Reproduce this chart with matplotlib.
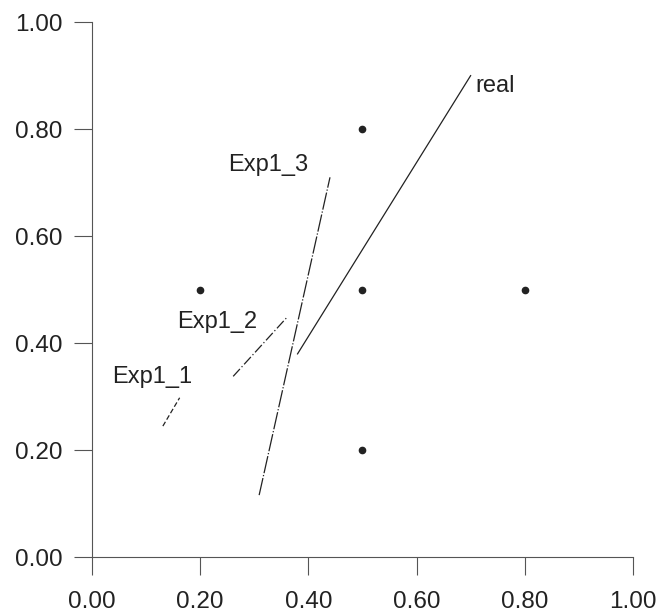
import matplotlib

matplotlib.use("Agg")
import matplotlib.pyplot as plt  # noqa: E402

plt.rcParams["font.family"] = ["Liberation Sans", "DejaVu Sans"]

# design points
pts_x = [0.2, 0.5, 0.5, 0.8, 0.5]
pts_y = [0.5, 0.8, 0.5, 0.5, 0.2]

# fitted segments: (x0, x1), (y0, y1)
real_x = [0.38, 0.70]
real_y = [0.38, 0.90]
exp3_x = [0.309, 0.44]
exp3_y = [0.116, 0.71]
exp2_x = [0.261, 0.362]
exp2_y = [0.338, 0.450]
exp1_x = [0.131, 0.162]
exp1_y = [0.245, 0.298]

labels = ["real", "Exp1_3", "Exp1_2", "Exp1_1"]
label_x = [0.708, 0.251, 0.157, 0.037]
label_y = [0.88, 0.733, 0.439, 0.336]

ticks = [0.0, 0.2, 0.4, 0.6, 0.8, 1.0]

fig = plt.figure(figsize=(6.62, 6.15), dpi=100)
ax = fig.add_axes([0.139, 0.094, 0.817, 0.870])

ink = "#222222"
ax.plot(real_x, real_y, "-", color=ink, lw=0.9)
ax.plot(exp3_x, exp3_y, color=ink, lw=0.9, dashes=(14, 1.5, 1, 1.5))
ax.plot(exp2_x, exp2_y, color=ink, lw=0.9, dashes=(8, 2, 1, 2))
ax.plot(exp1_x, exp1_y, color=ink, lw=0.9, dashes=(4, 2))
ax.plot(pts_x, pts_y, "o", color=ink, ms=4.5, ls="none")

for t, lx, ly in zip(labels, label_x, label_y):
    ax.text(lx, ly, t, fontsize=17, va="center", ha="left", color=ink)

ax.set_xlim(0, 1)
ax.set_ylim(0, 1)
ax.set_xticks(ticks)
ax.set_yticks(ticks)
ax.set_xticklabels([f"{t:.2f}" for t in ticks])
ax.set_yticklabels([f"{t:.2f}" for t in ticks])
ax.tick_params(direction="out", length=13, width=0.8, colors="#555555",
               labelsize=17.5, labelcolor=ink, pad=8)
ax.tick_params(axis="x", pad=11)
for side in ("top", "right"):
    ax.spines[side].set_visible(False)
for side in ("left", "bottom"):
    ax.spines[side].set_color("#555555")
    ax.spines[side].set_linewidth(0.8)

fig.savefig("out.png", dpi=100)
